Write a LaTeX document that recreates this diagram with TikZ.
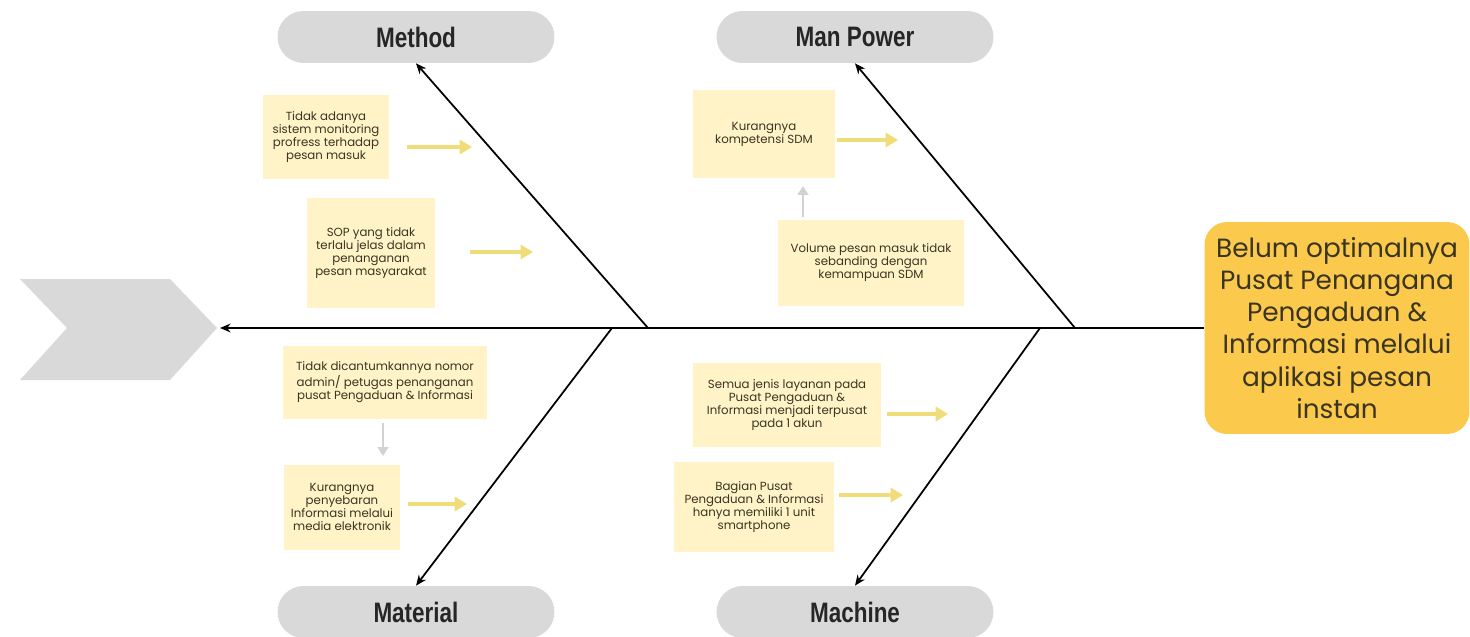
\documentclass[tikz,border=0pt]{standalone}
\usepackage{fontspec}
\usepackage{xcolor}
\setmainfont{Poppins}
\newfontfamily\labelfont{Liberation Sans}
\usetikzlibrary{shapes, positioning, arrows.meta}

\definecolor{pillgray}{HTML}{D9D9D9}
\definecolor{notefill}{HTML}{FFF3C7}
\definecolor{notearrow}{HTML}{F0DC78}
\definecolor{leadgray}{HTML}{D2D2D2}
\definecolor{effectgold}{HTML}{FBC94B}
\definecolor{inktext}{HTML}{3A3520}

\newcommand{\bonelabel}[1]{\scalebox{0.8}[1]{\labelfont\bfseries #1}}

\tikzset{
    category/.style={rectangle, rounded corners=0.52cm, fill=pillgray, minimum width=5.54cm, minimum height=1.04cm, font=\fontsize{16}{18}\selectfont, text=black!85},
    cause/.style={rectangle, fill=notefill, align=center, font=\fontsize{6.7}{7.4}\selectfont, text=inktext},
    feeds/.style={-{Triangle[length=7pt, width=8pt]}, line width=1.8pt, draw=notearrow},
    leads/.style={-{Triangle[length=5pt, width=6pt]}, line width=1.5pt, draw=leadgray},
    bone/.style={-{Stealth[length=6pt, width=5pt]}, line width=1pt, black}
}

\begin{document}
\begin{tikzpicture}[x=0.02cm, y=-0.02cm]
        \useasboundingbox (0, 0) rectangle (1470, 636);

        % head of the fish
        \node[rectangle, rounded corners=0.45cm, fill=effectgold, minimum width=5.3cm, minimum height=4.24cm, align=center, font=\fontsize{15}{18.3}\selectfont, text=inktext] at (1337, 328) (effect) {Belum optimalnya\\Pusat Penangana\\Pengaduan \&\\Informasi melalui\\aplikasi pesan\\instan};

        % tail
        \fill[pillgray] (20, 279) -- (170, 279) -- (217, 328) -- (170, 380) -- (20, 380) -- (67, 328) -- cycle;
        \coordinate (tail) at (220, 328);

        \node[category] at (416, 37) (method) {\bonelabel{Method}};
        \node[category] at (855, 37) (manpower) {\bonelabel{Man Power}};
        \node[category] at (416, 612) (material) {\bonelabel{Material}};
        \node[category] at (855, 612) (machine) {\bonelabel{Machine}};

        \coordinate (jmethod) at (648, 328);
        \coordinate (jmanpower) at (1075, 328);
        \coordinate (jmaterial) at (612, 328);
        \coordinate (jmachine) at (1040, 328);

        \draw[bone] (effect.west) -- (tail);
        \draw[bone] (jmethod) -- (method.south);
        \draw[bone] (jmanpower) -- (manpower.south);
        \draw[bone] (jmaterial) -- (material.north);
        \draw[bone] (jmachine) -- (machine.north);

        \node[cause, minimum width=2.54cm, minimum height=1.7cm] at (326, 137) (c1) {Tidak adanya\\sistem monitoring\\profress terhadap\\pesan masuk};
        \node[cause, minimum width=2.56cm, minimum height=2.2cm] at (371, 253) (c2) {SOP yang tidak\\terlalu jelas dalam\\penanganan\\pesan masyarakat};
        \node[cause, minimum width=2.84cm, minimum height=1.76cm] at (764, 134) (c3) {Kurangnya\\kompetensi SDM};
        \node[cause, minimum width=3.74cm, minimum height=1.72cm] at (871, 263) (c4) {Volume pesan masuk tidak\\sebanding dengan\\kemampuan SDM};
        \node[cause, minimum width=4.08cm, minimum height=1.46cm] at (385, 382) (c5) {Tidak dicantumkannya nomor\\admin/ petugas penanganan\\pusat Pengaduan \& Informasi};
        \node[cause, minimum width=2.34cm, minimum height=1.7cm] at (342, 507) (c6) {Kurangnya\\penyebaran\\Informasi melalui\\media elektronik};
        \node[cause, minimum width=3.78cm, minimum height=1.68cm] at (787, 405) (c7) {Semua jenis layanan pada\\Pusat Pengaduan \&\\Informasi menjadi terpusat\\pada 1 akun};
        \node[cause, minimum width=3.2cm, minimum height=1.8cm] at (754, 507) (c8) {Bagian Pusat\\Pengaduan \& Informasi\\hanya memiliki 1 unit\\smartphone};

        \coordinate (t1) at (472, 147);
        \coordinate (t2) at (533, 252);
        \coordinate (t3) at (898, 140);
        \coordinate (t6) at (467, 504);
        \coordinate (t7) at (948, 414);
        \coordinate (t8) at (903, 495);
        \coordinate (u4) at (803, 186);
        \coordinate (d5) at (383, 456);

        \draw[feeds, shorten <=0.34cm] (c1.east |- t1) -- (t1);
        \draw[feeds, shorten <=0.7cm] (c2.east |- t2) -- (t2);
        \draw[feeds, shorten <=0.04cm] (c3.east |- t3) -- (t3);
        \draw[feeds, shorten <=0.14cm] (c6.east |- t6) -- (t6);
        \draw[feeds, shorten <=0.1cm] (c7.east |- t7) -- (t7);
        \draw[feeds, shorten <=0.1cm] (c8.east |- t8) -- (t8);

        \draw[leads, shorten <=0.06cm] (u4 |- c4.north) -- (u4);
        \draw[leads, shorten <=0.08cm] (d5 |- c5.south) -- (d5);
\end{tikzpicture}
\end{document}
